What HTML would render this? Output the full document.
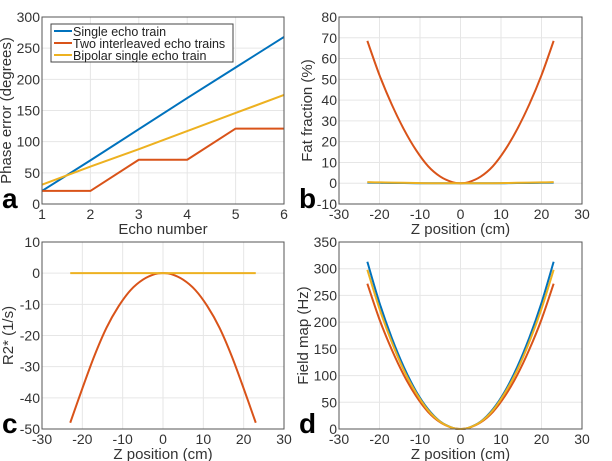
<!DOCTYPE html>
<html><head><meta charset="utf-8"><style>
body{margin:0;background:#fff}
svg{display:block;font-family:"Liberation Sans",Helvetica,Arial,sans-serif}
</style></head><body>
<svg id="fig" width="612" height="461" viewBox="0 0 612 461"></svg>
<script>
// Panel a data
const echoNumbers=[1,2,3,4,5,6];
const singleEcho=[21,70,120,170,219,268];
const interleaved=[21,21,71,71,121,121];
const bipolar=[31,60,88,117,146,175];
const aXTicks=[1,2,3,4,5,6];
const aYTicks=[0,50,100,150,200,250,300];
// Z positions (cm)
const zPos=[-23,-20,-17,-14,-11,-8,-5,-2,0,2,5,8,11,14,17,20,23];
// Panel b fat fraction (%)
const fatInterleaved=[68.5,52,38,26,16,8.2,3.2,0.5,0,0.5,3.2,8.2,16,26,38,52,68.5];
const fatSingle=[0.3,0.2,0.1,0.1,0,0,0,0,0,0,0,0,0,0.1,0.1,0.2,0.3];
const fatBipolar=[0.5,0.4,0.3,0.2,0.1,0,0,0,0,0,0,0,0.1,0.2,0.3,0.4,0.5];
const bYTicks=[-10,0,10,20,30,40,50,60,70,80];
// Panel c R2*
const r2Interleaved=[-48,-37,-26.5,-17.5,-10.6,-5.4,-2.1,-0.3,0,-0.3,-2.1,-5.4,-10.6,-17.5,-26.5,-37,-48];
const r2Bipolar=[0,0,0,0,0,0,0,0,0,0,0,0,0,0,0,0,0];
const cYTicks=[-50,-40,-30,-20,-10,0,10];
// Panel d field map (Hz)
const fmSingle=[313,236,171,116,71,37,14,2.3,0,2.3,14,37,71,116,171,236,313];
const fmInterleaved=[272,205,149,101,62,32,12.5,2,0,2,12.5,32,62,101,149,205,272];
const fmBipolar=[298,225,163,110,68,35,13.5,2.2,0,2.2,13.5,35,68,110,163,225,298];
const dYTicks=[0,50,100,150,200,250,300,350];
const zTicks=[-30,-20,-10,0,10,20,30];

const NS="http://www.w3.org/2000/svg";
const svg=document.getElementById('fig');
const C={blue:'#0072bd',red:'#d95319',yel:'#edb120'};
function mk(tag,attrs,parent){const e=document.createElementNS(NS,tag);for(const k in attrs)e.setAttribute(k,attrs[k]);(parent||svg).appendChild(e);return e;}

function pathD(pts,smooth){
  if(!smooth) return 'M'+pts.map(p=>p[0]+','+p[1]).join(' L');
  let d='M'+pts[0][0]+','+pts[0][1];
  for(let i=0;i<pts.length-1;i++){
    const p0=pts[Math.max(0,i-1)],p1=pts[i],p2=pts[i+1],p3=pts[Math.min(pts.length-1,i+2)];
    const c1=[p1[0]+(p2[0]-p0[0])/6,p1[1]+(p2[1]-p0[1])/6];
    const c2=[p2[0]-(p3[0]-p1[0])/6,p2[1]-(p3[1]-p1[1])/6];
    d+=` C${c1[0]},${c1[1]} ${c2[0]},${c2[1]} ${p2[0]},${p2[1]}`;
  }
  return d;
}

function panel(cfg){
  const g=mk('g',{});
  
  
  const sx=v=>cfg.x0+(v-cfg.xmin)/(cfg.xmax-cfg.xmin)*(cfg.x1-cfg.x0);
  const sy=v=>cfg.y1-(v-cfg.ymin)/(cfg.ymax-cfg.ymin)*(cfg.y1-cfg.y0);
  cfg.xt.forEach(t=>{const l=mk('line',{x1:sx(t),x2:sx(t),y1:cfg.y0,y2:cfg.y1,stroke:'#e6e6e6','stroke-width':1},g);
    
    const tx=mk('text',{x:sx(t),y:cfg.y1+15,'text-anchor':'middle','font-size':14,fill:'#333'},g);tx.textContent=t;
    });
  cfg.yt.forEach(t=>{const l=mk('line',{x1:cfg.x0,x2:cfg.x1,y1:sy(t),y2:sy(t),stroke:'#e6e6e6','stroke-width':1},g);
    
    const tx=mk('text',{x:cfg.x0-2,y:sy(t)+5,'text-anchor':'end','font-size':14,fill:'#333'},g);tx.textContent=t;
    });
  cfg.series.forEach(s=>{
    const pts=s.x.map((v,i)=>[sx(v),sy(s.y[i])]);
    const p=mk('path',{d:pathD(pts,cfg.smooth),fill:'none',stroke:s.c,'stroke-width':2,'stroke-linejoin':'round'},g);
    
  });
  const r=mk('rect',{x:cfg.x0,y:cfg.y0,width:cfg.x1-cfg.x0,height:cfg.y1-cfg.y0,fill:'none',stroke:'#555','stroke-width':1},g);
  
  const xl=mk('text',{x:(cfg.x0+cfg.x1)/2,y:cfg.y1+30,'text-anchor':'middle','font-size':15,fill:'#333'},g);xl.textContent=cfg.xlabel;
  
  const cy=(cfg.y0+cfg.y1)/2;
  const yl=mk('text',{x:cfg.x0-cfg.ylOff,y:cy,'text-anchor':'middle','font-size':15,fill:'#333',transform:`rotate(-90 ${cfg.x0-cfg.ylOff} ${cy})`},g);yl.textContent=cfg.ylabel;
  
  const pl=mk('text',{x:cfg.x0-40,y:cfg.y1+4,'font-size':28,'font-weight':'bold',fill:'#000'},g);pl.textContent=cfg.letter;
  
  return g;
}

panel({name:'panel-a-phase-error',x0:42,x1:284,y0:17,y1:204,xmin:1,xmax:6,ymin:0,ymax:300,xt:aXTicks,yt:aYTicks,smooth:false,
  xlabel:'Echo number',ylabel:'Phase error (degrees)',ylOff:31,letter:'a',
  series:[{x:echoNumbers,y:singleEcho,c:C.blue,name:'line-single-echo'},{x:echoNumbers,y:interleaved,c:C.red,name:'line-interleaved'},{x:echoNumbers,y:bipolar,c:C.yel,name:'line-bipolar'}]});
panel({name:'panel-b-fat-fraction',x0:339,x1:582,y0:17,y1:204,xmin:-30,xmax:30,ymin:-10,ymax:80,xt:zTicks,yt:bYTicks,smooth:true,
  xlabel:'Z position (cm)',ylabel:'Fat fraction (%)',ylOff:27,letter:'b',
  series:[{x:zPos,y:fatSingle,c:C.blue,name:'line-single-echo'},{x:zPos,y:fatInterleaved,c:C.red,name:'line-interleaved'},{x:zPos,y:fatBipolar,c:C.yel,name:'line-bipolar'}]});
panel({name:'panel-c-r2star',x0:42,x1:284,y0:242,y1:429,xmin:-30,xmax:30,ymin:-50,ymax:10,xt:zTicks,yt:cYTicks,smooth:true,
  xlabel:'Z position (cm)',ylabel:'R2* (1/s)',ylOff:29,letter:'c',
  series:[{x:zPos,y:r2Interleaved,c:C.red,name:'line-interleaved'},{x:zPos,y:r2Bipolar,c:C.yel,name:'line-bipolar'}]});
panel({name:'panel-d-field-map',x0:339,x1:582,y0:242,y1:429,xmin:-30,xmax:30,ymin:0,ymax:350,xt:zTicks,yt:dYTicks,smooth:true,
  xlabel:'Z position (cm)',ylabel:'Field map (Hz)',ylOff:31,letter:'d',
  series:[{x:zPos,y:fmSingle,c:C.blue,name:'line-single-echo'},{x:zPos,y:fmInterleaved,c:C.red,name:'line-interleaved'},{x:zPos,y:fmBipolar,c:C.yel,name:'line-bipolar'}]});

// legend
const lg=mk('g',{});


mk('rect',{x:51,y:24,width:182,height:38,fill:'#fff',stroke:'#444','stroke-width':1},lg);
const legendLabels=['Single echo train','Two interleaved echo trains','Bipolar single echo train'];
const legendColors=[C.blue,C.red,C.yel];
legendLabels.forEach((t,i)=>{
  const y=31+i*12;
  const ln=mk('line',{x1:54,x2:72,y1:y,y2:y,stroke:legendColors[i],'stroke-width':2},lg);
  
  
  const tx=mk('text',{x:73,y:y+5,'font-size':12.5,fill:'#222'},lg);tx.textContent=t;
  
  
});
</script>
</body></html>
